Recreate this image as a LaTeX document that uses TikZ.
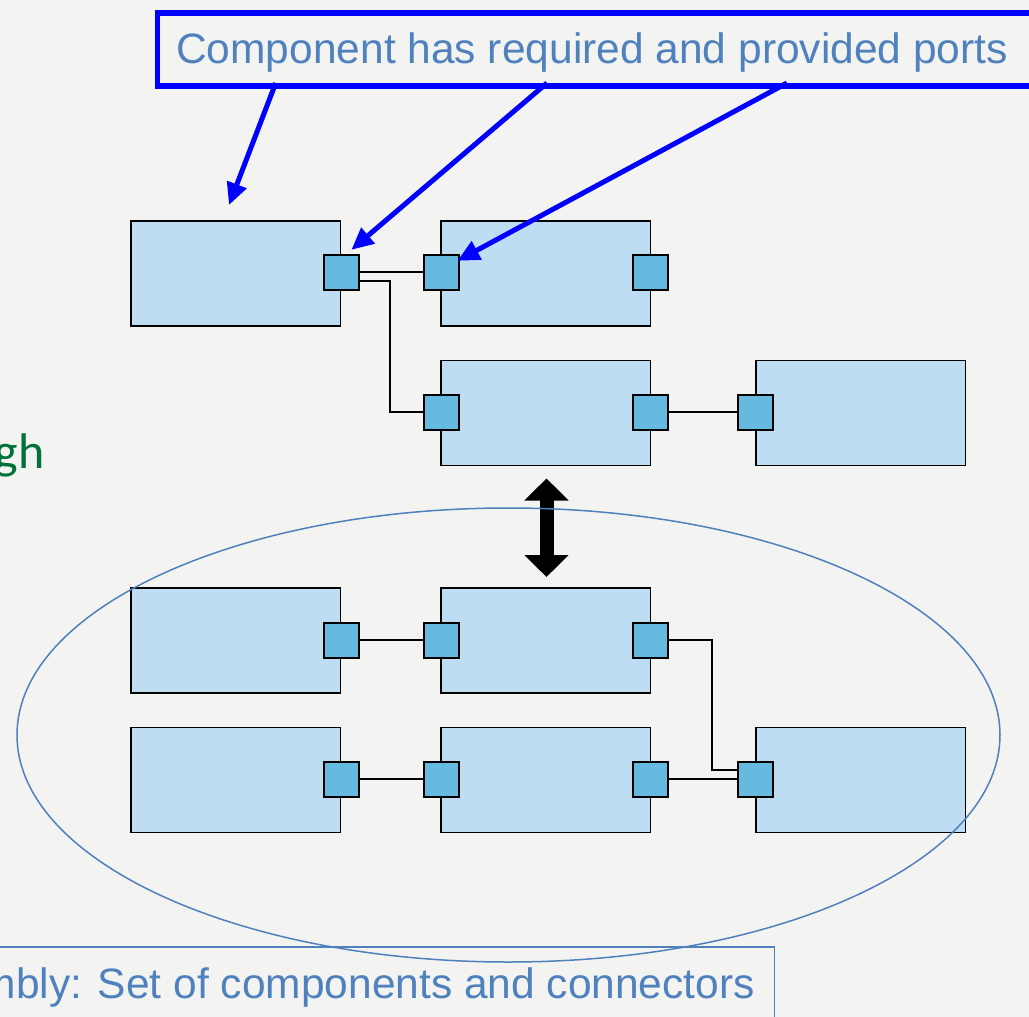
\documentclass[tikz,border=0pt]{standalone}
\usepackage{fontspec}
\setmainfont{Liberation Sans}
\newfontfamily\calibrifont{Carlito}
\usetikzlibrary{arrows.meta}

\definecolor{pagebg}{RGB}{243,243,241}
\definecolor{compfill}{RGB}{190,220,242}
\definecolor{portfill}{RGB}{102,186,224}
\definecolor{steel}{RGB}{79,129,189}
\definecolor{notegreen}{RGB}{0,114,58}
\definecolor{purebl}{RGB}{0,0,255}

\begin{document}
\begin{tikzpicture}[x=1pt,y=-1pt,
  comp/.style={draw=black, line width=1.5pt, fill=compfill, minimum width=209.5pt,
    minimum height=105pt, inner sep=0pt, anchor=north west},
  port/.style={draw=black, line width=1.8pt, fill=portfill, minimum size=35pt, inner sep=0pt},
  wire/.style={draw=black, line width=2pt},
  callarrow/.style={draw=purebl, line width=5pt, -{Triangle[length=22pt,width=20pt]}},
  notetext/.style={text=steel, font=\fontsize{42.5}{50}\selectfont, inner sep=0pt},
]
% page
\useasboundingbox (0,0) rectangle (1029,1017);
\fill[pagebg] (0,0) rectangle (1029,1017);
\clip (0,0) rectangle (1029,1017);

% left-hand text, cut at the page edge
\node[text=notegreen, font=\calibrifont\fontsize{50}{60}\selectfont, inner sep=0pt,
  anchor=base east] (gh) at (44.5,468) {gh};

% components
\node[comp] (A) at (130,220) {};
\node[comp] (B) at (440,220) {};
\node[comp] (C) at (440,359.5) {};
\node[comp] (D) at (755,359.5) {};
\node[comp] (E) at (130,587) {};
\node[comp] (F) at (440,587) {};
\node[comp] (G) at (130,726.5) {};
\node[comp] (H) at (440,726.5) {};
\node[comp] (I) at (755,726.5) {};

% ports
\node[port] (pA)  at (341.5,272.2) {};
\node[port] (pBl) at (441.5,272.2) {};
\node[port] (pBr) at (650.5,272.2) {};
\node[port] (pCl) at (441.5,412.2) {};
\node[port] (pCr) at (650.5,412.2) {};
\node[port] (pDl) at (755.5,412.2) {};
\node[port] (pEr) at (341.5,640.2) {};
\node[port] (pFl) at (441.5,640.2) {};
\node[port] (pFr) at (650.5,640.2) {};
\node[port] (pGr) at (341.5,779.2) {};
\node[port] (pHl) at (441.5,779.2) {};
\node[port] (pHr) at (650.5,779.2) {};
\node[port] (pIl) at (755.5,779.2) {};

% connectors
\draw[wire] (pA.east) -- (pBl.west);
\draw[wire] ([yshift=-9pt]pA.east) -- ++(29.7,0) |- (pCl.west);
\draw[wire] (pCr.east) -- (pDl.west);
\draw[wire] (pEr.east) -- (pFl.west);
\draw[wire] (pFr.east) -- ++(42.7,0) |- ([yshift=9pt]pIl.west);
\draw[wire] (pGr.east) -- (pHl.west);
\draw[wire] (pHr.east) -- (pIl.west);

% two-way arrow between the configurations
\draw[line width=14pt, {Triangle[length=22pt,width=43pt]}-{Triangle[length=22pt,width=43pt]},
  shorten <=12.5pt, shorten >=10pt] ([xshift=1pt]C.south) -- ([xshift=1pt]F.north);

% assembly outline
\draw[steel, line width=1.5pt] (508.5,735) ellipse [x radius=491.5, y radius=227];

% callout at the top
\node[draw=purebl, line width=5.5pt, anchor=north west, minimum width=900pt,
  minimum height=73pt, inner sep=0pt] (call) at (154.5,10) {};
\node[notetext, anchor=base west] (calltext) at (176,63) {Component has required and provided ports};
\coordinate (s1) at (275.7,83);
\coordinate (s2) at (547,83);
\coordinate (s3) at (787,83);
\coordinate (t1) at (229,205);
\draw[callarrow] (s1) -- (t1);
\draw[callarrow] (s2) -- ([xshift=-8.5pt,yshift=4pt]pA.north east);
\draw[callarrow] (s3) -- ([xshift=-2.5pt,yshift=-7pt]pBl.north east);

% assembly caption at the bottom
\node[draw=steel, line width=1.5pt, anchor=north east, minimum width=820pt,
  minimum height=100pt, inner sep=0pt] (asmbox) at (775,946) {};
\node[notetext, anchor=base east] (asmtext) at (755,998) {mbly: Set of components and connectors};
\end{tikzpicture}
\end{document}
